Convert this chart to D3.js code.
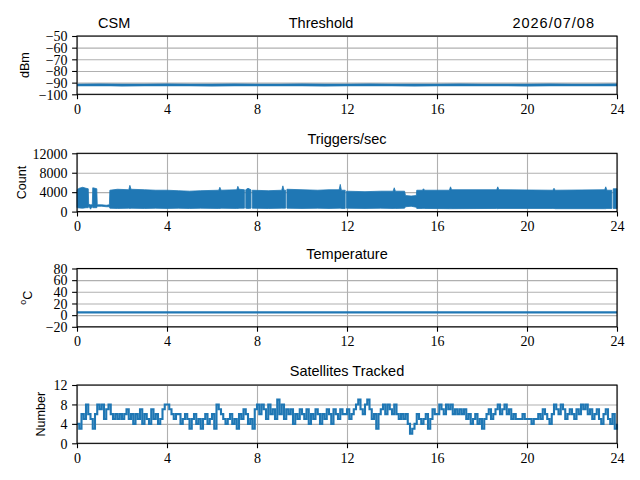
<!DOCTYPE html>
<meta charset="utf-8">
<style>
body { margin: 0; background: #fff; }
.title { font-family: "Liberation Sans", sans-serif; font-size: 14.5px; fill: #000; }
.ylab { font-family: "Liberation Sans", sans-serif; font-size: 12.6px; fill: #000; }
.grid line { stroke: #b0b0b0; stroke-width: 1.1px; }
.grid path { display: none; }
.trace { fill: none; stroke: #1f77b4; stroke-width: 2.1px; }
</style>
<body></body>
<script src="https://cdn.jsdelivr.net/npm/d3@7"></script>
<script>

// hours of day on the x axis
var hourTicks = [0, 4, 8, 12, 16, 20, 24];

// threshold (dBm), one reading per hour
var threshHours = d3.range(0, 25);
var threshVals = [-92.0, -91.8, -92.1, -92.0, -91.9, -92.0, -92.1, -91.9, -92.0, -92.0, -91.9, -92.1, -92.0,
                  -91.9, -92.0, -92.1, -92.0, -91.9, -92.0, -92.0, -92.1, -91.9, -92.0, -92.0, -91.9];

// triggers/sec: low and high envelope of the dense trace (null = short gap)
var trigHours = [0, 0.1, 0.25, 0.4, 0.5, 0.52, 0.6, 0.68, 0.7, 0.8, 0.88, 0.9, 1.1, 1.3, 1.44,
  1.46, 1.8, 2.3, 2.35, 2.4, 3.0, 3.5, 4.0, 4.5, 5.0, 5.5, 6.3, 6.35, 6.4, 7.1, 7.15, 7.2, 7.44,
  7.47, 7.5, 7.6, 7.73, 7.76, 7.79, 8.5, 9.1, 9.15, 9.2, 9.27, 9.3, 9.33, 10.0, 10.7, 11.2,
  11.65, 11.7, 11.75, 11.92, 11.95, 11.98, 12.8, 13.5, 14.05, 14.1, 14.15, 14.56, 14.6, 14.85, 15.08,
  15.1, 15.35, 15.4, 15.45, 16.55, 16.6, 16.65, 18.65, 18.7, 18.75, 21.15, 21.2, 21.25,
  23.45, 23.5, 23.55, 23.77, 23.8, 23.83, 24.0];
var trigLow = [800, 750, 700, 800, 800, 1200, 500, 1100, 800, 800, 800, 1100, 1100, 1000, 1000,
  700, 650, 700, 650, 700, 650, 700, 650, 700, 650, 700, 650, 650, 700, 650, 650, 700, 700,
  null, 700, 650, 700, null, 700, 650, 700, 700, 700, 700, null, 700, 650, 700, 650,
  700, 700, 650, 650, null, 700, 650, 700, 650, 650, 650, 700, 1000, 1100, 900,
  650, 650, 650, 650, 600, 600, 600, 650, 600, 650, 650, 650, 600,
  600, 600, 650, 650, null, 650, 650];
var trigHigh = [4500, 4800, 5000, 4800, 4700, 1500, 1400, 1400, 4900, 4800, 4700, 1400, 1400, 1300, 1400,
  4400, 4600, 4500, 5400, 4600, 4500, 4400, 4400, 4300, 4200, 4300, 4400, 5000, 4400, 4500, 5200, 4600, 4500,
  null, 4500, 4800, 4500, null, 4400, 4300, 4400, 5300, 4400, 4400, null, 4600, 4500, 4400, 4500,
  4500, 5600, 4400, 4400, null, 4200, 4100, 4200, 4200, 4900, 4200, 4200, 3300, 3200, 3300,
  4400, 4400, 4700, 4400, 4400, 5100, 4500, 4500, 5100, 4500, 4400, 4800, 4400,
  4500, 5100, 4400, 4400, null, 4700, 4700];

// temperature (deg C), one reading per hour
var tempHours = d3.range(0, 25);
var tempVals = [4.8, 4.8, 4.8, 4.8, 4.8, 4.8, 4.8, 4.8, 4.8, 4.8, 4.8, 4.8, 4.8,
                4.8, 4.8, 4.8, 4.8, 4.8, 4.8, 4.8, 4.8, 4.8, 4.8, 4.8, 4.8];

// satellites tracked, every 0.1 h
var satHours = d3.range(0, 241).map(function(i) { return i / 10; });
var satVals = [
  4,3,6,5,8,6,5,3,6,8,  7,8,5,7,8,6,5,6,5,6,  5,6,7,5,6,4,6,5,7,4,  6,5,4,7,5,6,4,5,7,8,
  8,7,6,5,6,6,4,5,6,5,  3,5,6,4,5,3,5,6,4,5,  6,3,8,7,6,5,4,5,6,4,  5,3,6,5,7,6,4,5,3,7,
  8,6,8,7,5,8,6,7,5,9,  6,8,5,7,6,7,4,6,5,7,  6,5,7,4,6,5,7,6,4,6,  5,7,6,4,7,6,5,7,6,6,
  7,5,6,7,8,9,7,6,8,9,  7,5,6,3,6,7,8,6,8,7,  6,8,6,5,6,5,6,4,2,3,  4,6,5,4,5,6,3,5,7,6,
  6,8,7,6,8,7,8,6,7,6,  7,6,7,5,6,4,5,6,4,5,  3,5,6,7,5,6,7,8,6,7,  8,6,7,5,6,5,5,5,6,5,
  5,5,4,5,5,6,5,7,6,5,  4,6,8,7,6,8,7,5,6,7,  6,5,7,6,8,7,8,6,7,5,  6,7,5,4,6,7,5,4,6,3,
  4];

var width = 640, height = 480;
var left = 77, right = 617, axH = 58.3;
var blue = "#1f77b4";

var svg = d3.select("body").append("svg")
    .attr("width", width)
    .attr("height", height);

var x = d3.scaleLinear().domain([0, 24]).range([left, right]);

function panel(top, yDomain, yTicks, ylabel, ylabX) {
    var y = d3.scaleLinear().domain(yDomain).range([top + axH, top]);
    var g = svg.append("g");

    // grid
    g.append("g").attr("class", "grid")
        .attr("transform", "translate(0," + (top + axH) + ")")
        .call(d3.axisBottom(x).tickValues(hourTicks).tickSize(-axH).tickFormat(""));
    g.append("g").attr("class", "grid")
        .attr("transform", "translate(" + left + ",0)")
        .call(d3.axisLeft(y).tickValues(yTicks).tickSize(-(right - left)).tickFormat(""));

    var plot = g.append("g");

    // frame
    g.append("rect")
        .attr("x", left).attr("y", top)
        .attr("width", right - left).attr("height", axH)
        .attr("fill", "none").attr("stroke", "#000").attr("stroke-width", 1.1);

    // axes
    var fmt = d3.format("d");
    var xa = g.append("g")
        .attr("transform", "translate(0," + (top + axH) + ")")
        .call(d3.axisBottom(x).tickValues(hourTicks).tickSize(4.9).tickPadding(4.5).tickFormat(fmt));
    var ya = g.append("g")
        .attr("transform", "translate(" + left + ",0)")
        .call(d3.axisLeft(y).tickValues(yTicks).tickSize(4.9).tickPadding(4.5)
              .tickFormat(function(d) { return fmt(d).replace("-", "\u2212"); }));
    [xa, ya].forEach(function(a) {
        a.select(".domain").remove();
        a.selectAll(".tick line").attr("stroke", "#000").attr("stroke-width", 1.1);
        a.selectAll(".tick text")
            .style("font-family", "'Liberation Serif', 'Times New Roman', serif")
            .style("font-size", "14px")
            .attr("fill", "#000");
    });
    ya.selectAll(".tick text").attr("dy", "0.34em");
    xa.selectAll(".tick text").attr("dy", "0.72em");

    // y label
    var lab = g.append("text")
        .attr("class", "ylab")
        .attr("transform", "translate(" + ylabX + "," + (top + axH / 2) + ") rotate(-90)")
        .attr("text-anchor", "middle")
        .attr("dy", "0.35em");
    if (ylabel === "degC") {
        lab.append("tspan").attr("font-size", "9px").attr("dy", "-0.5em").text("o");
        lab.append("tspan").attr("dy", "0.5em").text("C");
    } else {
        lab.text(ylabel);
    }

    return {y: y, plot: plot};
}

function title(txt, xpos, ypos, anchor) {
    return svg.append("text")
        .attr("class", "title")
        .attr("x", xpos).attr("y", ypos)
        .attr("text-anchor", anchor)
        .text(txt);
}

// 1. Threshold
var p1 = panel(36, [-100, -50], d3.range(-100, -49, 10), "dBm", 25);
p1.plot.append("path")
    .datum(threshHours.map(function(h, i) { return [h, threshVals[i]]; }))
    .attr("class", "trace")
    .style("stroke-width", "2.6px")
    .attr("d", d3.line().x(function(d) { return x(d[0]); }).y(function(d) { return p1.y(d[1]); }));
title("CSM", 98, 28, "start");
title("Threshold", 321, 28, "middle");
title("2026/07/08", 595, 28, "end").style("letter-spacing", "1px");

// 2. Triggers/sec
var p2 = panel(153.3, [0, 12000], [0, 4000, 8000, 12000], "Count", 22);
var trigData = trigHours.map(function(h, i) { return {h: h, lo: trigLow[i], hi: trigHigh[i]}; });
p2.plot.append("path")
    .datum(trigData)
    .attr("fill", blue)
    .attr("stroke", blue)
    .attr("stroke-width", 0.8)
    .attr("d", d3.area()
        .defined(function(d) { return d.hi !== null; })
        .x(function(d) { return x(d.h); })
        .y0(function(d) { return p2.y(d.lo); })
        .y1(function(d) { return p2.y(d.hi); }));
title("Triggers/sec", 347, 143.5, "middle");

// 3. Temperature
var p3 = panel(268.5, [-20, 80], d3.range(-20, 81, 20), "degC", 30);
p3.plot.append("path")
    .datum(tempHours.map(function(h, i) { return [h, tempVals[i]]; }))
    .attr("class", "trace")
    .attr("d", d3.line().x(function(d) { return x(d[0]); }).y(function(d) { return p3.y(d[1]); }));
title("Temperature", 347, 258.5, "middle");

// 4. Satellites Tracked
var p4 = panel(385, [0, 12], [0, 4, 8, 12], "Number", 41);
p4.plot.append("path")
    .datum(satHours.map(function(h, i) { return [h, satVals[i]]; }))
    .attr("class", "trace")
    .attr("d", d3.line().curve(d3.curveStepAfter)
        .x(function(d) { return x(d[0]); }).y(function(d) { return p4.y(d[1]); }));
title("Satellites Tracked", 347, 376, "middle");

</script>
